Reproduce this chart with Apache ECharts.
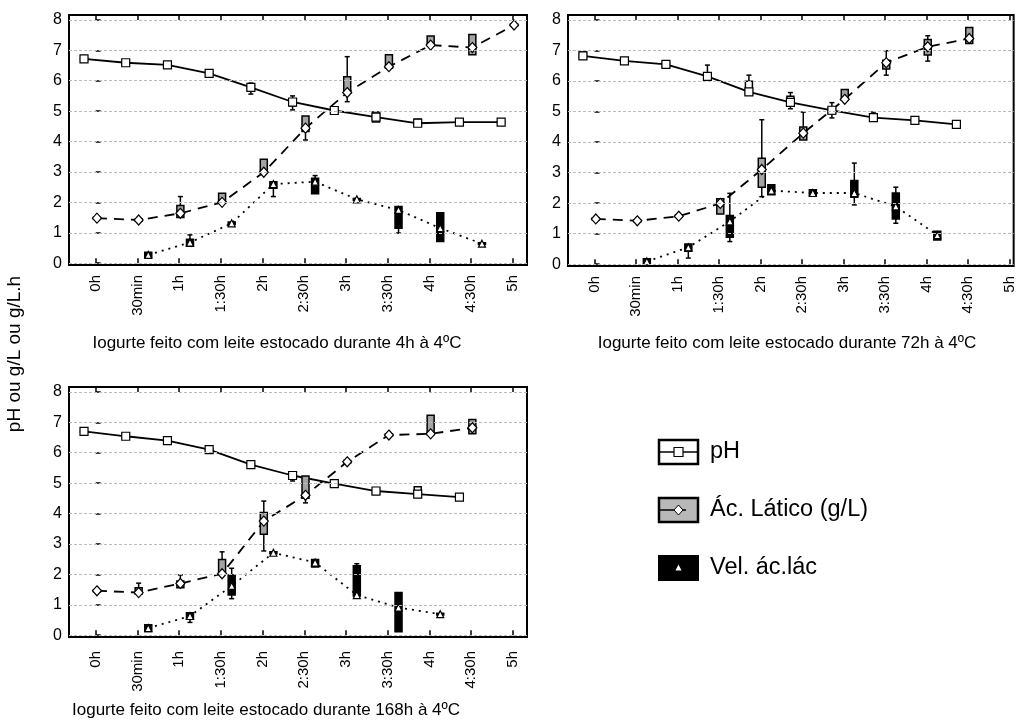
<!DOCTYPE html>
<html><head><meta charset="utf-8">
<script src="https://cdn.jsdelivr.net/npm/echarts@6/dist/echarts.min.js"></script>
<style>html,body{margin:0;padding:0;background:#fff}#c{width:1017px;height:728px}</style>
</head><body><div id="c"></div>
<script>
// ---- data ----
const timeLabels = ['0h','30min','1h','1:30h','2h','2:30h','3h','3:30h','4h','4:30h','5h'];
const yTicks = [0,1,2,3,4,5,6,7,8];
const panelTitles = ['Iogurte feito com leite estocado durante 4h à 4ºC','Iogurte feito com leite estocado durante 72h à 4ºC','Iogurte feito com leite estocado durante 168h à 4ºC'];
const seriesNames = ['pH','Ác. Lático (g/L)','Vel. ác.lác'];
const yAxisName = 'pH ou g/L ou g/L.h';
// each point: [mean, boxLow, boxHigh, whiskerLow, whiskerHigh]
// pH and Ác. Lático start at 0h, Vel. ác.lác starts at 30min
const ph4h = [[6.72,6.69,6.75,6.69,6.75],[6.59,6.55,6.64,6.55,6.64],[6.52,6.50,6.55,6.50,6.55],[6.24,6.17,6.30,6.17,6.30],[5.78,5.70,5.86,5.56,5.92],[5.30,5.17,5.37,5.04,5.50],[5.02,4.99,5.05,4.99,5.05],[4.80,4.64,4.97,4.64,4.97],[4.60,4.52,4.74,4.52,4.74],[4.64,4.61,4.67,4.61,4.67],[4.64,4.61,4.67,4.61,4.67]];
const ac4h = [[1.48,1.45,1.51,1.45,1.51],[1.42,1.39,1.45,1.39,1.45],[1.64,1.50,1.90,1.50,2.19],[2.00,1.98,2.30,1.98,2.30],[2.99,2.97,3.42,2.97,3.42],[4.44,4.33,4.84,4.05,4.84],[5.61,5.59,6.13,5.31,6.79],[6.46,6.41,6.85,6.41,6.85],[7.17,7.15,7.47,7.15,7.47],[7.09,6.85,7.52,6.85,7.52],[7.83,7.80,7.86,7.80,7.86]];
const vel4h = [[0.27,0.18,0.36,0.18,0.36],[0.68,0.56,0.79,0.56,0.93],[1.31,1.27,1.35,1.27,1.35],[2.60,2.46,2.68,2.19,2.68],[2.68,2.28,2.79,2.28,2.88],[2.10,2.07,2.13,2.07,2.13],[1.75,1.15,1.86,0.99,1.86],[1.15,0.71,1.66,0.71,1.66],[0.64,0.61,0.67,0.61,0.67]];
const ph72h = [[6.82,6.76,6.95,6.76,6.95],[6.66,6.63,6.69,6.63,6.69],[6.54,6.46,6.63,6.46,6.63],[6.15,6.08,6.24,6.08,6.52],[5.64,5.55,5.99,5.55,6.19],[5.30,5.22,5.50,5.09,5.62],[5.04,4.93,5.13,4.79,5.29],[4.80,4.75,4.87,4.75,4.98],[4.71,4.68,4.74,4.68,4.74],[4.58,4.55,4.61,4.55,4.61]];
const ac72h = [[1.48,1.45,1.51,1.45,1.51],[1.42,1.39,1.45,1.39,1.45],[1.57,1.54,1.60,1.54,1.60],[1.99,1.64,2.14,1.64,2.14],[3.10,2.52,3.47,2.21,4.73],[4.29,4.07,4.49,4.07,4.98],[5.40,5.37,5.72,5.37,5.72],[6.60,6.39,6.68,6.19,6.99],[7.12,6.85,7.36,6.65,7.48],[7.39,7.23,7.75,7.23,7.75]];
const vel72h = [[0.09,0.02,0.18,0.02,0.18],[0.55,0.42,0.66,0.20,0.66],[1.40,0.88,1.59,0.74,2.32],[2.41,2.27,2.60,2.27,2.60],[2.33,2.24,2.44,2.24,2.44],[2.33,2.19,2.74,1.94,3.31],[1.89,1.48,2.33,1.34,2.52],[0.95,0.79,1.08,0.79,1.08]];
const ph168h = [[6.70,6.67,6.73,6.67,6.73],[6.54,6.51,6.57,6.51,6.57],[6.40,6.37,6.43,6.37,6.43],[6.10,6.07,6.13,6.07,6.13],[5.61,5.58,5.64,5.58,5.64],[5.25,5.15,5.30,5.07,5.30],[4.98,4.95,5.01,4.95,5.01],[4.74,4.62,4.79,4.62,4.79],[4.64,4.54,4.88,4.54,4.88],[4.54,4.51,4.57,4.51,4.57]];
const ac168h = [[1.46,1.43,1.49,1.43,1.49],[1.40,1.35,1.56,1.35,1.71],[1.70,1.56,1.78,1.56,1.98],[2.02,2.02,2.49,2.02,2.74],[3.75,3.32,4.03,2.77,4.41],[4.60,4.50,5.23,4.35,5.23],[5.70,5.66,5.74,5.66,5.74],[6.58,6.54,6.62,6.54,6.62],[6.62,6.59,7.23,6.59,7.23],[6.82,6.62,7.09,6.62,7.09]];
const vel168h = [[0.23,0.12,0.34,0.12,0.34],[0.63,0.53,0.74,0.42,0.74],[1.62,1.32,1.98,1.20,2.20],[2.71,2.68,2.74,2.68,2.74],[2.39,2.24,2.49,2.24,2.49],[1.32,1.29,2.28,1.29,2.35],[0.91,0.11,1.40,0.11,1.40],[0.69,0.66,0.72,0.66,0.72]];

// ---- layout / style ----
const FONT = 'Liberation Sans, Arial, sans-serif';
const panels = [
  {grid:{left:69, top:15, width:458, height:250}, xMax:10.34, ph:ph4h, ac:ac4h, vel:vel4h, title:panelTitles[0], tx:277, ty:343, labelMargin:10},
  {grid:{left:568, top:15, width:447, height:251}, xMax:10.1, ph:ph72h, ac:ac72h, vel:vel72h, title:panelTitles[1], tx:787, ty:343, labelMargin:10},
  {grid:{left:69, top:387, width:458, height:250}, xMax:10.34, ph:ph168h, ac:ac168h, vel:vel168h, title:panelTitles[2], tx:266, ty:710, labelMargin:14}
];
const SHIFT = {ph:-0.28, ac:0.03, vel:0.26};
const START = {ph:0, ac:0, vel:1};
const STY = {
  ph:{fill:'#ffffff', line:'solid', symbol:'rect', size:8},
  ac:{fill:'#a4a4a4', line:[10,7], symbol:'diamond', size:[9,10]},
  vel:{fill:'#000000', line:[2,5], symbol:'triangle', size:7}
};

function boxRender(fill){
  return function(params, api){
    const x = api.value(0);
    const lo = api.coord([x, api.value(1)]);
    const hi = api.coord([x, api.value(2)]);
    const wl = api.coord([x, api.value(3)]);
    const wh = api.coord([x, api.value(4)]);
    const cx = lo[0], hw = 3.5, cw = 2.5;
    const ch = [];
    ch.push({type:'line', shape:{x1:cx, y1:wl[1], x2:cx, y2:wh[1]}, style:{stroke:'#000', lineWidth:1.5}});
    if (wl[1] - lo[1] > 1) ch.push({type:'line', shape:{x1:cx-cw, y1:wl[1], x2:cx+cw, y2:wl[1]}, style:{stroke:'#000', lineWidth:1.5}});
    if (hi[1] - wh[1] > 1) ch.push({type:'line', shape:{x1:cx-cw, y1:wh[1], x2:cx+cw, y2:wh[1]}, style:{stroke:'#000', lineWidth:1.5}});
    ch.push({type:'rect', shape:{x:cx-hw, y:hi[1], width:2*hw, height:Math.max(lo[1]-hi[1],1)}, style:{fill:fill, stroke:'#000', lineWidth:1.5}});
    return {type:'group', children:ch};
  };
}

const grid = [], xAxis = [], yAxis = [], series = [], graphic = [];
panels.forEach((p, i) => {
  grid.push(Object.assign({show:true, borderColor:'#000', borderWidth:2, backgroundColor:'#fff'}, p.grid));
  xAxis.push({type:'value', gridIndex:i, min:-0.64, max:p.xMax, position:'bottom',
    axisLine:{show:false}, splitLine:{show:false},
    axisTick:{show:true, inside:true, length:5, customValues:timeLabels.map((t,k)=>k), lineStyle:{color:'#000', width:1.5}},
    axisLabel:{show:true, rotate:90, margin:p.labelMargin, customValues:timeLabels.map((t,k)=>k), formatter:v=>timeLabels[Math.round(v)], color:'#000', fontFamily:FONT, fontSize:15}
  });
  xAxis.push({type:'value', gridIndex:i, min:-0.64, max:p.xMax, position:'top',
    axisLine:{show:false}, splitLine:{show:false}, axisLabel:{show:false},
    axisTick:{show:true, inside:true, length:5, customValues:timeLabels.map((t,k)=>k), lineStyle:{color:'#000', width:1.5}}
  });
  yAxis.push({type:'value', gridIndex:i, min:-0.06, max:8.16,
    axisLine:{show:false}, splitLine:{show:false},
    axisTick:{show:true, inside:true, length:5, customValues:yTicks, lineStyle:{color:'#000', width:1.5}},
    axisLabel:{show:true, margin:7, customValues:yTicks, color:'#000', fontFamily:FONT, fontSize:16}
  });
  const xi = i*2;
  ['ph','ac','vel'].forEach((key, si) => {
    const arr = p[key];
    const pts = arr.map((d,k)=>[START[key]+k+SHIFT[key], d[0]]);
    const boxes = arr.map((d,k)=>[START[key]+k+SHIFT[key], d[1], d[2], d[3], d[4]]);
    const line = {type:'line', name:seriesNames[si], xAxisIndex:xi, yAxisIndex:i, data:pts, showSymbol:false, symbol:'none', z:2,
      lineStyle:{color:'#000', width:1.8, type:STY[key].line}, silent:true, animation:false};
    if (si === 0) {
      line.markLine = {silent:true, symbol:'none', label:{show:false}, animation:false,
        lineStyle:{color:'#bcbcbc', type:[3,2], width:1}, data:yTicks.map(v=>({yAxis:v}))};
      line.z = 1;
    }
    series.push(line);
    series.push({type:'custom', xAxisIndex:xi, yAxisIndex:i, data:boxes, renderItem:boxRender(STY[key].fill), z:3, silent:true, animation:false,
      encode:{x:0, y:[1,2,3,4]}});
    series.push({type:'scatter', xAxisIndex:xi, yAxisIndex:i, data:pts, symbol:STY[key].symbol, symbolSize:STY[key].size, z:4, silent:true, animation:false,
      itemStyle:{color:'#fff', borderColor:'#000', borderWidth:1.2, opacity:1}});
  });
  graphic.push({type:'text', x:p.tx, y:p.ty, style:{text:p.title, font:'17px '+FONT, fill:'#000', textAlign:'center', textVerticalAlign:'middle'}});
});

graphic.push({type:'text', x:15, y:354, rotation:Math.PI/2, style:{text:yAxisName, font:'19px '+FONT, fill:'#000', textAlign:'center', textVerticalAlign:'middle'}});

// legend
const LX = 659, LW = 39, LH = 24;
const legendY = [440, 498, 556];
graphic.push({type:'rect', shape:{x:LX, y:legendY[0], width:LW, height:LH}, style:{fill:'#fff', stroke:'#000', lineWidth:2.5}});
graphic.push({type:'line', shape:{x1:LX, y1:legendY[0]+LH/2, x2:LX+LW, y2:legendY[0]+LH/2}, style:{stroke:'#000', lineWidth:1.5}});
graphic.push({type:'rect', shape:{x:LX+LW/2-4.5, y:legendY[0]+LH/2-4.5, width:9, height:9}, style:{fill:'#fff', stroke:'#000', lineWidth:1.2}});
graphic.push({type:'rect', shape:{x:LX, y:legendY[1], width:LW, height:LH}, style:{fill:'#b8b8b8', stroke:'#000', lineWidth:2.5}});
graphic.push({type:'line', shape:{x1:LX, y1:legendY[1]+LH/2, x2:LX+LW-12, y2:legendY[1]+LH/2}, style:{stroke:'#000', lineWidth:1.5}});
graphic.push({type:'polygon', shape:{points:[[LX+LW/2,legendY[1]+LH/2-5],[LX+LW/2+4.5,legendY[1]+LH/2],[LX+LW/2,legendY[1]+LH/2+5],[LX+LW/2-4.5,legendY[1]+LH/2]]}, style:{fill:'#fff', stroke:'#000', lineWidth:1}});
graphic.push({type:'rect', shape:{x:LX, y:legendY[2], width:LW, height:LH}, style:{fill:'#000', stroke:'#000', lineWidth:2}});
graphic.push({type:'polygon', shape:{points:[[LX+LW/2,legendY[2]+LH/2-3.5],[LX+LW/2+3,legendY[2]+LH/2+2.5],[LX+LW/2-3,legendY[2]+LH/2+2.5]]}, style:{fill:'#fff'}});
seriesNames.forEach((t,k)=>{
  graphic.push({type:'text', x:710, y:legendY[k]+LH/2, style:{text:t, font:'23.5px '+FONT, fill:'#000', textAlign:'left', textVerticalAlign:'middle'}});
});

const chart = echarts.init(document.getElementById('c'), null, {renderer:'canvas'});
chart.setOption({animation:false, backgroundColor:'#fff', grid, xAxis, yAxis, series, graphic});
</script>
</body></html>
